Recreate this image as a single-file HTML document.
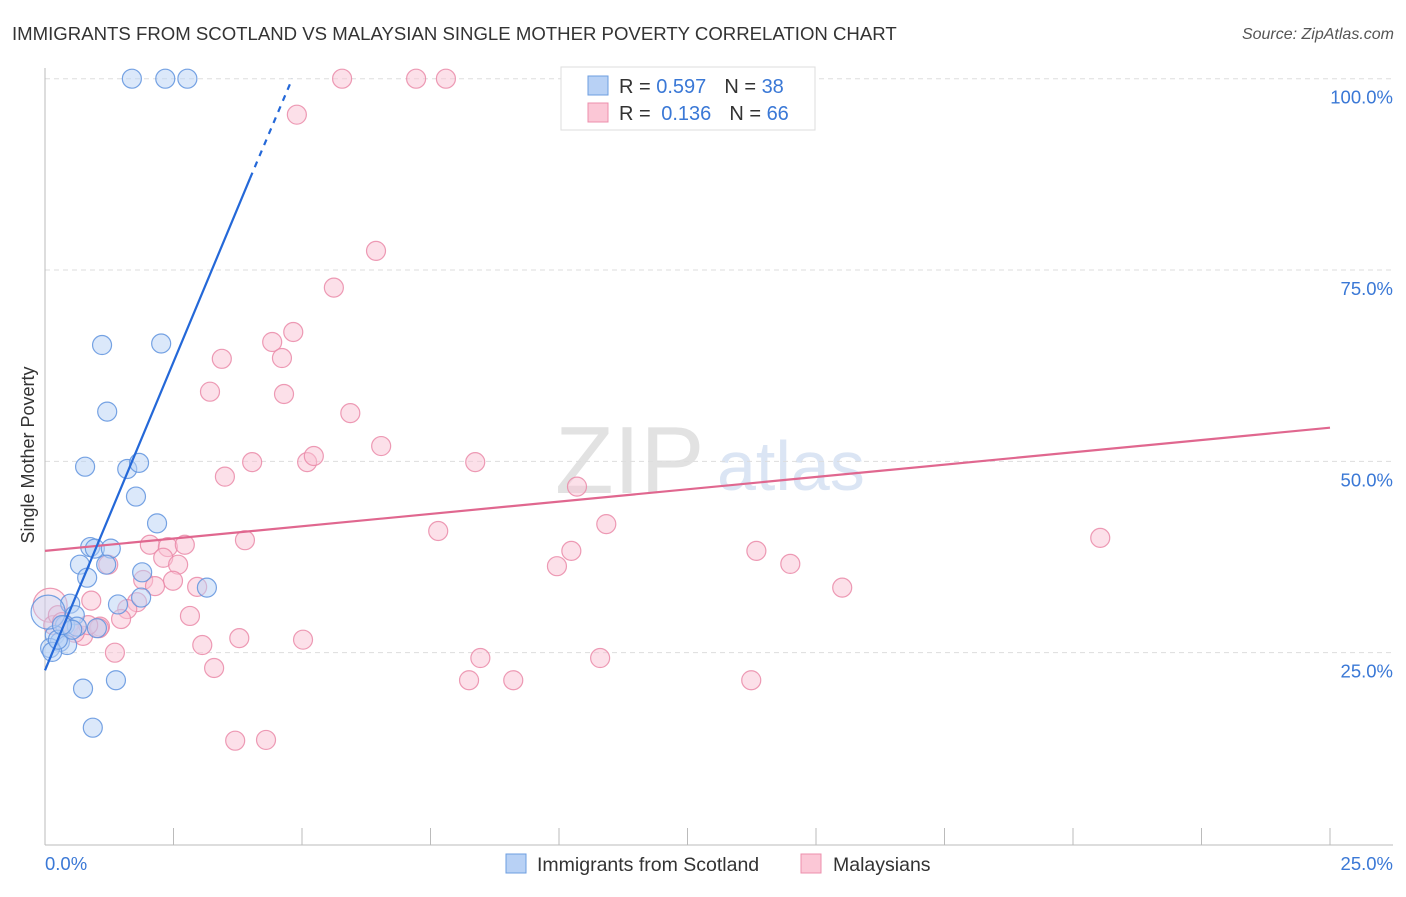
<!DOCTYPE html>
<html><head><meta charset="utf-8"><style>
body{margin:0;background:#fff;font-family:"Liberation Sans",sans-serif;}
svg text{font-family:"Liberation Sans",sans-serif;}
</style></head><body>
<svg id="chart" width="1406" height="892" xmlns="http://www.w3.org/2000/svg">
<text x="12" y="40" font-size="18.6" fill="#333">IMMIGRANTS FROM SCOTLAND VS MALAYSIAN SINGLE MOTHER POVERTY CORRELATION CHART</text>
<text x="1394" y="39" font-size="16" fill="#555" font-style="italic" text-anchor="end">Source: ZipAtlas.com</text>
<text x="555" y="493" font-size="96" fill="#e2e2e2" font-family="Liberation Serif">ZIP</text>
<text x="717" y="490" font-size="70" fill="#dbe5f4">atlas</text>
<text transform="translate(34,455) rotate(-90)" font-size="18" fill="#333" text-anchor="middle">Single Mother Poverty</text>
<g id="grid"></g><g id="axes"></g><g id="marks"></g><g id="lines"></g>
<g>
<rect x="561" y="67" width="254" height="63" fill="#fff" stroke="#ddd"/>
<rect x="588" y="76" width="20" height="19" fill="#b8d1f5" stroke="#6d9ee0"/>
<rect x="588" y="103" width="20" height="19" fill="#fbc7d6" stroke="#ec8fac"/>
<text x="619" y="93" font-size="20" fill="#333">R = <tspan fill="#3a78d6">0.597</tspan><tspan dx="18">N = </tspan><tspan fill="#3a78d6">38</tspan></text>
<text x="619" y="120" font-size="20" fill="#333">R = <tspan fill="#3a78d6" dx="5">0.136</tspan><tspan dx="18">N = </tspan><tspan fill="#3a78d6">66</tspan></text>
</g>
<g>
<rect x="506" y="854" width="20" height="19" fill="#b8d1f5" stroke="#6d9ee0"/>
<text x="537" y="871" font-size="19.5" fill="#333">Immigrants from Scotland</text>
<rect x="801" y="854" width="20" height="19" fill="#fbc7d6" stroke="#ec8fac"/>
<text x="833" y="871" font-size="19.5" fill="#333">Malaysians</text>
</g>
</svg>
<script>
const yTicks=[25,50,75,100];
const yTickLabels=["25.0%","50.0%","75.0%","100.0%"];
const xTicks=[0,2.5,5,7.5,10,12.5,15,17.5,20,22.5,25];
const blueX=[1.69,2.34,2.77,1.11,2.26,1.21,0.78,1.60,1.83,1.77,2.18,0.88,0.97,1.28,0.68,1.19,0.82,1.89,1.42,1.87,0.49,0.58,3.15,0.39,0.62,1.01,0.19,0.29,0.43,0.10,0.14,0.74,1.38,0.93,0.06,0.25,0.53,0.33];
const blueY=[100,100,100,65.2,65.4,56.5,49.3,49.0,49.8,45.4,41.9,38.8,38.6,38.6,36.5,36.5,34.8,35.5,31.3,32.2,31.4,29.9,33.5,28.6,28.4,28.2,27.3,26.4,26.0,25.6,25.1,20.3,21.4,15.2,30.3,26.7,28.0,28.6];
const pinkX=[5.78,7.22,7.80,4.90,6.44,5.62,4.83,4.42,4.61,3.44,3.21,4.65,5.94,6.54,4.03,5.10,5.23,8.37,3.50,10.35,10.92,7.65,3.89,20.53,2.04,2.39,2.72,10.24,13.84,2.30,9.96,1.23,2.59,14.50,1.91,2.49,2.14,2.96,15.51,0.90,1.79,1.60,1.48,2.82,0.10,0.16,0.45,1.07,0.74,1.05,1.36,3.06,3.78,5.02,3.29,8.47,10.80,8.25,9.11,13.74,3.70,4.30,0.25,0.58,0.33,0.84];
const pinkY=[100,100,100,95.3,77.5,72.7,66.9,65.6,63.5,63.4,59.1,58.8,56.3,52.0,49.9,49.9,50.7,49.9,48.0,46.7,41.8,40.9,39.7,40.0,39.1,38.8,39.1,38.3,38.3,37.4,36.3,36.5,36.5,36.6,34.5,34.4,33.7,33.6,33.5,31.8,31.6,30.7,29.4,29.8,31.2,28.6,28.2,28.4,27.2,28.2,25.0,26.0,26.9,26.7,23.0,24.3,24.3,21.4,21.4,21.4,13.5,13.6,29.9,27.6,29.0,28.6];
const blueLine=[[0,22.7],[3.99,87.0]];
const blueDash=[[3.99,87.0],[4.81,100]];
const pinkLine=[[0,38.3],[25,54.4]];
const NS="http://www.w3.org/2000/svg";
const xs=v=>45+v/25*1285;
const ys=v=>844-v/100*765.3;
function mk(tag,attrs,parent){const e=document.createElementNS(NS,tag);for(const k in attrs)e.setAttribute(k,attrs[k]);document.getElementById(parent).appendChild(e);return e;}
yTicks.forEach((t,i)=>{
 const g=mk('line',{x1:45,x2:1393,y1:ys(t),y2:ys(t),stroke:'#ddd','stroke-dasharray':'5,4'},'grid');
 
 
 const l=mk('text',{x:1393,y:ys(t)+25,'font-size':18.5,fill:'#3a78d6','text-anchor':'end'},'grid');
 l.textContent=yTickLabels[i];
 
 
});
let ax=mk('line',{x1:45,x2:45,y1:68,y2:845,stroke:'#bbb'},'axes');


ax=mk('line',{x1:45,x2:1393,y1:845,y2:845,stroke:'#bbb'},'axes');


xTicks.forEach(t=>{
 const tk=mk('line',{x1:xs(t),x2:xs(t),y1:828,y2:845,stroke:'#bbb'},'axes');
 
 
});
let xl=mk('text',{x:45,y:870,'font-size':18.5,fill:'#3a78d6'},'axes');xl.textContent='0.0%';


xl=mk('text',{x:1393,y:870,'font-size':18.5,fill:'#3a78d6','text-anchor':'end'},'axes');xl.textContent='25.0%';


function dots(X,Y,fill,stroke,name){
 X.forEach((x,i)=>{
  const big=(x<=0.1&&Y[i]>30);
  const c=mk('circle',{cx:xs(x),cy:ys(Y[i]),r:big?17:9.5,fill:fill,'fill-opacity':big?0.35:0.5,stroke:stroke,'stroke-opacity':0.85,'stroke-width':1.2},'marks');
  
  
 });
}
dots(pinkX,pinkY,'#f9c2d3','#ea8aa8','point-malaysians');
dots(blueX,blueY,'#b8d1f5','#5f93de','point-scotland');
function ln(p,stroke,dash,name){
 const a={x1:xs(p[0][0]),y1:ys(p[0][1]),x2:xs(p[1][0]),y2:ys(p[1][1]),stroke:stroke,'stroke-width':2.2};
 if(dash)a['stroke-dasharray']=dash;
 const l=mk('line',a,'lines');
 
 
}
ln(pinkLine,'#e0678f',null,'trend-line-malaysians');
ln(blueLine,'#2468d8',null,'trend-line-scotland');
ln(blueDash,'#2468d8','6,6','trend-line-scotland-extension');
</script>
</body></html>
